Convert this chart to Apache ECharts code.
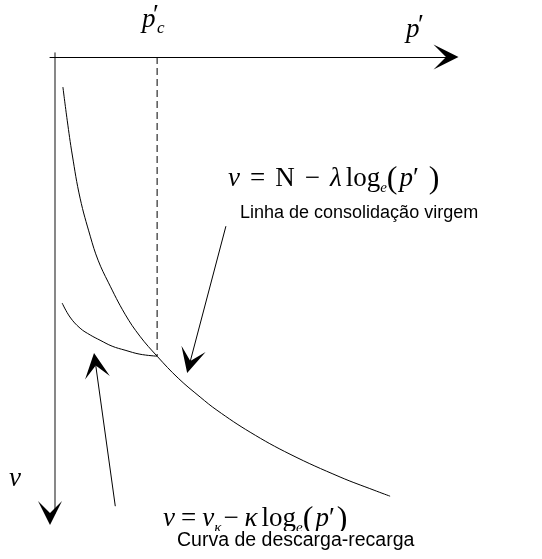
<!DOCTYPE html>
<html>
<head>
<meta charset="utf-8">
<script src="https://cdn.jsdelivr.net/npm/echarts@6/dist/echarts.min.js"></script>
<style>
  html, body { margin: 0; padding: 0; background: #ffffff; }
  #chart { width: 542px; height: 559px; }
</style>
</head>
<body>
<div id="chart"></div>
<script>
// Virgin consolidation line (NCL): mean effective stress p' and specific volume v
// (v is plotted downward from the p' axis).
const nclP = [2.0, 3.1, 4.4, 6.4, 9.0, 11.0, 13.6, 17.9, 21.7, 26.1, 31.5, 37.1, 41.4, 49.9, 60.1, 72.9, 81.6, 85.7];
const nclV = [7.5, 15.8, 24.5, 35.3, 44.8, 50.8, 56.3, 64.3, 69.8, 74.8, 80.3, 85.0, 88.3, 93.8, 99.3, 105.0, 108.3, 109.8];

// Unloading-reloading line (swelling line) ending on the NCL at p'c
const urlP = [1.8, 3.8, 6.4, 9.0, 11.5, 14.6, 17.9, 21.7, 26.1];
const urlV = [61.5, 65.0, 67.8, 69.5, 70.8, 72.3, 73.3, 74.3, 74.8];

// Pre-consolidation pressure p'c and the volume reached there
const preconsP = 26.1;
const preconsV = 74.8;

// Leader arrows from the captions to each curve: [start, arrow-head centre] as [p', v]
const nclLeader = [[43.7, 42.3], [34.6, 76.0]];
const urlLeader = [[15.4, 112.3], [10.4, 77.1]];

// Axis ranges
const pMin = -1.3, pMax = 100;
const vMin = -1, vMax = 114;

const arrowHead = 'path://M13,0 L26,26 L13,13 L0,26 Z';
const serif = '"Liberation Serif", "Times New Roman", serif';
const sans = '"Liberation Sans", Arial, sans-serif';

const toPairs = (xs, ys) => xs.map((x, i) => [x, ys[i]]);

const chart = echarts.init(document.getElementById('chart'), null, { renderer: 'canvas' });

const base = { fontFamily: serif, color: '#000', verticalAlign: 'bottom' };
const mathRich = {
  n:   Object.assign({}, base, { fontSize: 27, lineHeight: 30, padding: [0, 0, 4, 0] }),
  i:   Object.assign({}, base, { fontSize: 27, fontStyle: 'italic', lineHeight: 30, padding: [0, 0, 4, 0] }),
  sub: Object.assign({}, base, { fontSize: 15, fontStyle: 'italic', lineHeight: 15, padding: [0, 0, 0, 0] }),
  par: Object.assign({}, base, { fontSize: 32, lineHeight: 34, padding: [0, 0, 0, 0] }),
  s10: { width: 10 },
  s8:  { width: 8 },
  s6:  { width: 6 },
  s4:  { width: 4 },
  s2:  { width: 2 }
};

// A plain axis line drawn once in grey, and a second, line-less copy that carries the black arrow head
const axisOff = { axisTick: { show: false }, axisLabel: { show: false }, splitLine: { show: false } };

chart.setOption({
  animation: false,
  backgroundColor: '#ffffff',
  grid: { left: 50, right: 96, top: 53, bottom: 46, containLabel: false },
  xAxis: Object.assign({
    type: 'value', min: pMin, max: pMax, position: 'top',
    axisLine: { show: true, onZero: true, symbol: ['none', arrowHead], symbolSize: [25, 26],
      lineStyle: { color: '#000', width: 1 } }
  }, axisOff),
  yAxis: [
    Object.assign({
      type: 'value', min: vMin, max: vMax, inverse: true,
      axisLine: { show: true, onZero: true, lineStyle: { color: '#6a6a6a', width: 1.6 } }
    }, axisOff),
    Object.assign({
      type: 'value', min: vMin, max: vMax, inverse: true, position: 'left',
      axisLine: { show: true, onZero: true, symbol: [arrowHead, 'none'], symbolSize: [25, 24],
        lineStyle: { color: '#000', width: 0 } }
    }, axisOff)
  ],
  series: [
    {
      name: 'NCL', type: 'line', data: toPairs(nclP, nclV), smooth: 0.4,
      showSymbol: false, lineStyle: { color: '#000', width: 1 }
    },
    {
      name: 'URL', type: 'line', data: toPairs(urlP, urlV), smooth: 0.4,
      showSymbol: false, lineStyle: { color: '#000', width: 1 }
    },
    {
      name: 'pc', type: 'line', data: [[preconsP, 0], [preconsP, preconsV]],
      showSymbol: false, lineStyle: { color: '#000', width: 1, type: [7, 4] }
    },
    {
      name: 'leaders', type: 'lines', coordinateSystem: 'cartesian2d',
      symbol: ['none', arrowHead], symbolSize: [1, 25],
      lineStyle: { color: '#000', width: 1, opacity: 1 },
      data: [{ coords: nclLeader }, { coords: urlLeader }]
    }
  ],
  graphic: [
    // p'c above the dashed line
    { type: 'text', x: 142, y: 6, style: { text: 'p', font: 'italic 27px ' + serif, fill: '#000' } },
    { type: 'text', x: 153, y: 2, style: { text: '′', font: '27px ' + serif, fill: '#000' } },
    { type: 'text', x: 157, y: 20, style: { text: 'c', font: 'italic 17px ' + serif, fill: '#000' } },
    // p' at the end of the horizontal axis
    { type: 'text', x: 406, y: 16, style: { text: 'p', font: 'italic 27px ' + serif, fill: '#000' } },
    { type: 'text', x: 418, y: 12, style: { text: '′', font: '27px ' + serif, fill: '#000' } },
    // v beside the vertical axis
    { type: 'text', x: 9, y: 465, style: { text: 'v', font: 'italic 27px ' + serif, fill: '#000' } },
    // NCL equation and caption
    { type: 'text', x: 228, y: 162, style: {
        text: '{i|v}{s10|}{n|=}{s10|}{n|N}{s10|}{n|−}{s10|}{i|λ}{s4|}{n|log}{sub|e}{par|(}{s2|}{i|p}{n|′}{s10|}{par|)}',
        rich: mathRich } },
    { type: 'text', x: 240, y: 213, style: { text: 'Linha de consolidação virgem', font: '18px ' + sans, fill: '#000', verticalAlign: 'middle' } },
    // URL equation and caption (the caption box overlaps the equation's lower edge)
    { type: 'text', x: 163, y: 502, style: {
        text: '{i|v}{s6|}{n|=}{s6|}{i|v}{sub|κ}{s2|}{n|−}{s6|}{i|κ}{s4|}{n|log}{sub|e}{par|(}{s2|}{i|p}{n|′}{s2|}{par|)}',
        rich: mathRich } },
    { type: 'text', x: 177, y: 541, style: { text: 'Curva de descarga-recarga', font: '19.5px ' + sans, fill: '#000', verticalAlign: 'middle', backgroundColor: '#fff' } }
  ]
});
</script>
</body>
</html>
